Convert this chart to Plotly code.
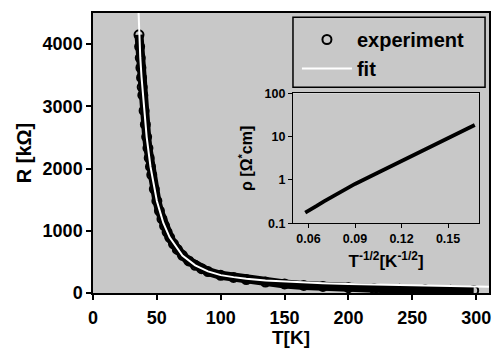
import plotly.graph_objects as go

# Main panel: experiment (circles) R[kOhm] vs T[K]
T_exp = [36.0, 36.5, 37.0, 37.5, 38.0, 38.5, 39.0, 40, 41, 42, 43, 44, 45, 46, 48, 50, 52, 54,
         56, 58, 60, 63, 66, 70, 75, 80, 85, 90, 100, 110, 120, 135, 150, 165, 180, 200, 220,
         240, 260, 280, 298]
R_exp = [4150, 3960, 3780, 3620, 3460, 3310, 3180, 2930, 2710, 2510, 2330, 2170, 2030, 1900,
         1670, 1480, 1320, 1190, 1080, 980, 895, 790, 700, 605, 515, 445, 390, 345, 285, 250,
         215, 175, 145, 122, 105, 85, 70, 60, 52, 45, 40]

# Main panel: fit (white line)
T_fit = [35.5, 36, 37, 38, 40, 42, 45, 50, 55, 60, 70, 80, 90, 100, 110, 120, 135, 150, 165,
         180, 200, 220, 240, 260, 280, 300, 310]
R_fit = [4600, 4160, 3790, 3470, 2930, 2510, 2030, 1480, 1130, 895, 600, 445, 348, 287, 255,
         228, 200, 183, 170, 158, 145, 135, 125, 117, 110, 103, 100]

# Inset: rho [Ohm*cm] vs T^-1/2
x_in = [0.0579, 0.062, 0.065, 0.07, 0.075, 0.08, 0.09, 0.105, 0.12, 0.135, 0.15, 0.1672]
rho_in = [0.176, 0.21, 0.248, 0.32, 0.40, 0.49, 0.81, 1.49, 2.74, 5.03, 9.25, 18.6]

x_ticks = [0, 50, 100, 150, 200, 250, 300]
y_ticks = [0, 1000, 2000, 3000, 4000]
xin_ticks = [0.06, 0.09, 0.12, 0.15]
yin_ticks = [0.1, 1, 10, 100]
yin_labels = ["0.1", "1", "10", "100"]

FONT = "Liberation Sans"
GRAY = "#c8c8c8"

fig = go.Figure()

# band under the circles (fills the dense data band)
fig.add_trace(go.Scatter(x=T_exp, y=R_exp, mode="lines", line=dict(color="black", width=9),
                         showlegend=False, hoverinfo="skip", xaxis="x", yaxis="y"))
fig.add_trace(go.Scatter(x=T_exp, y=R_exp, mode="markers", name="experiment",
                         marker=dict(symbol="circle-open", size=9, color="black",
                                     line=dict(width=2, color="black")),
                         xaxis="x", yaxis="y"))
fig.add_trace(go.Scatter(x=T_fit, y=R_fit, mode="lines", name="fit",
                         line=dict(color="white", width=2), xaxis="x", yaxis="y"))

# inset
fig.add_trace(go.Scatter(x=x_in, y=rho_in, mode="lines", line=dict(color="black", width=3.8),
                         showlegend=False, xaxis="x2", yaxis="y2"))

axis_common = dict(showline=True, mirror=True, linecolor="black", showgrid=False,
                   zeroline=False, ticks="outside", tickcolor="black")

fig.update_layout(
    width=493, height=348,
    margin=dict(l=93, r=2, t=13, b=55),
    paper_bgcolor="white", plot_bgcolor=GRAY,
    font=dict(family=FONT, color="black"),
    xaxis=dict(axis_common, domain=[0, 1], range=[0, 310], tickvals=x_ticks, ticklen=5,
               linewidth=1.5, tickwidth=1.5, ticklabelstandoff=3,
               tickfont=dict(size=18, weight="bold"),
               title=dict(text="T[K]", font=dict(size=19, weight="bold"), standoff=1)),
    yaxis=dict(axis_common, domain=[0, 1], range=[0, 4500], tickvals=y_ticks, ticklen=5,
               linewidth=1.5, tickwidth=1.5,
               tickfont=dict(size=18, weight="bold"),
               title=dict(text="R [kΩ]", font=dict(size=20, weight="bold"), standoff=6)),
    xaxis2=dict(axis_common, domain=[0.505, 0.975], anchor="y2", range=[0.05, 0.17],
                tickvals=xin_ticks, ticklen=4, linewidth=1.2, tickwidth=1.2,
                tickfont=dict(size=12.5, weight="bold"),
                title=dict(text="T<sup>-1/2</sup>[K<sup>-1/2</sup>]",
                           font=dict(size=17, weight="bold"), standoff=9)),
    yaxis2=dict(axis_common, domain=[0.249, 0.713], anchor="x2", type="log", range=[-1, 2],
                tickvals=yin_ticks, ticktext=yin_labels, ticklen=4, linewidth=1.2,
                tickwidth=1.2, tickfont=dict(size=12.5, weight="bold"),
                title=dict(text="ρ [Ω<sup>*</sup>cm]", font=dict(size=16, weight="bold"),
                           standoff=7)),
    legend=dict(x=0.515, y=0.975, xanchor="left", yanchor="top",
                bgcolor="rgba(0,0,0,0)", borderwidth=0, itemwidth=50,
                font=dict(size=20, weight="bold", color="black"), tracegroupgap=0),
    shapes=[
        dict(type="rect", xref="x2 domain", yref="y2 domain", x0=0, x1=1, y0=0, y1=1,
             fillcolor="white", line=dict(width=0), layer="below"),
        dict(type="rect", xref="paper", yref="paper", x0=0.505, x1=0.990, y0=0.7346,
             y1=0.9846, line=dict(color="black", width=1.5), fillcolor="rgba(0,0,0,0)",
             layer="above"),
    ],
)

fig.write_html("out.html")
